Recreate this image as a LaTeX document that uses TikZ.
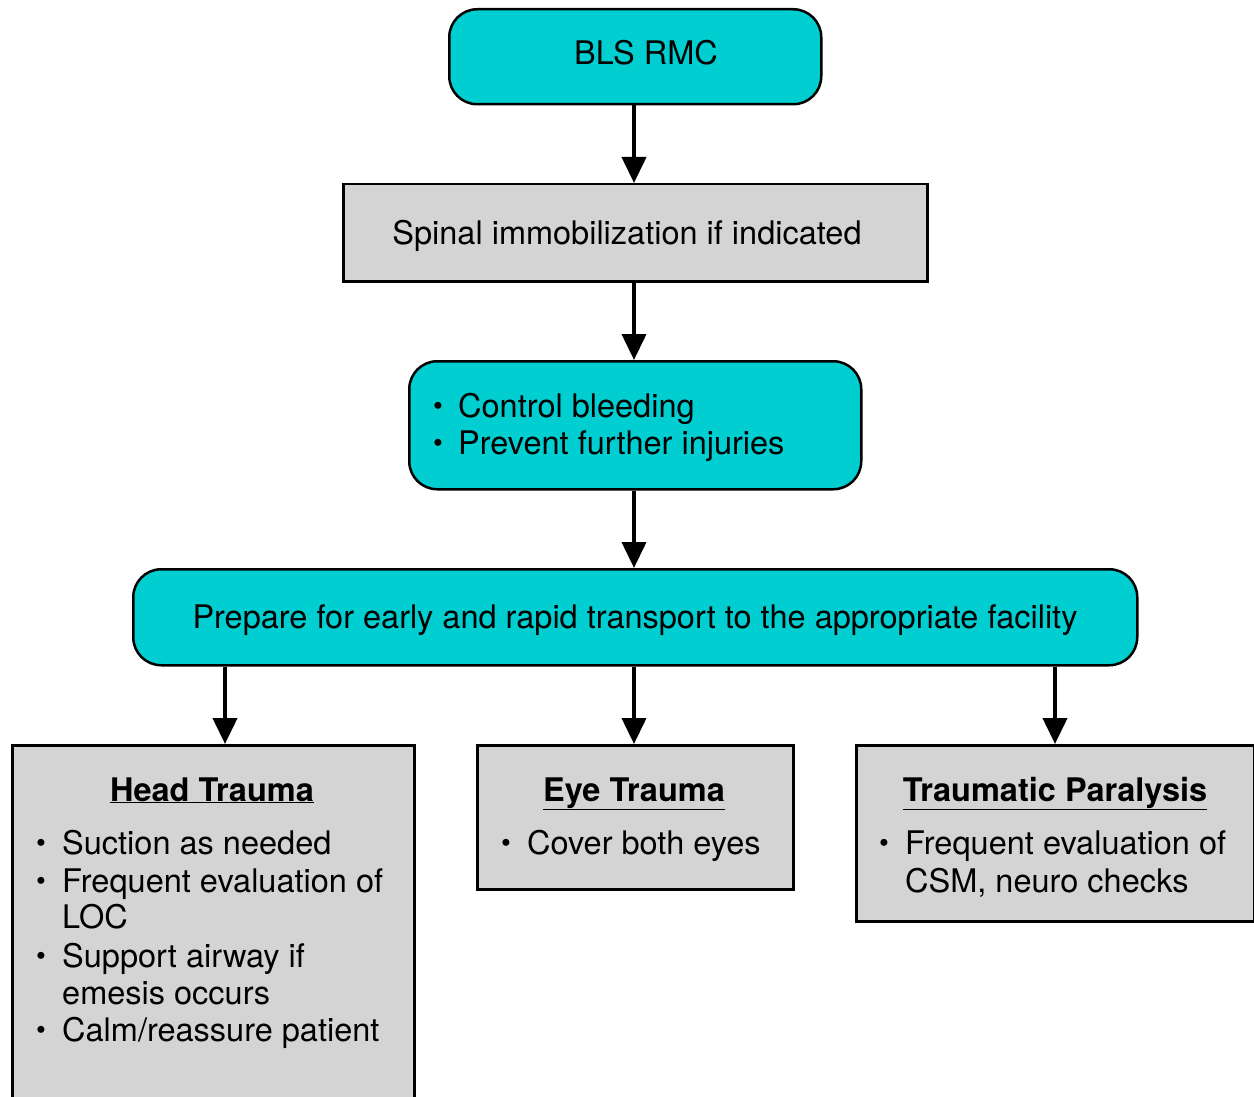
\documentclass[tikz,border=0pt]{standalone}
\usepackage{fontspec}
\setmainfont{TeX Gyre Heros}
\usetikzlibrary{arrows.meta}
\definecolor{tq}{HTML}{00CED1}
\definecolor{gbox}{HTML}{D4D4D4}
\tikzset{
  boxbase/.style={draw=black, line width=2.5pt, inner sep=0pt, anchor=north west},
  cbox/.style={boxbase, fill=tq, rounded corners=28pt},
  gbx/.style={boxbase, fill=gbox},
  txt/.style={inner sep=0pt, font=\fontsize{32.5}{38}\selectfont},
  ln/.style={txt, anchor=base west},
  bul/.style={inner sep=0pt, font=\fontsize{28}{30}\selectfont, anchor=base},
  arr/.style={line width=4pt, -{Triangle[width=24pt,length=26pt]}}
}
\begin{document}
\begin{tikzpicture}[x=1pt,y=-1pt]
\useasboundingbox (0,0) rectangle (1254,1097);
\clip (0,0) rectangle (1254,1097);
% boxes
\node[cbox, minimum width=372pt, minimum height=95pt] (bls) at (448,8) {};
\node[gbx, minimum width=584pt, minimum height=97pt] (spinal) at (342,183) {};
\node[cbox, minimum width=452pt, minimum height=128pt] (ctrl) at (408,360) {};
\node[cbox, minimum width=1004pt, minimum height=96pt] (prep) at (132,568) {};
\node[gbx, minimum width=402pt, minimum height=380pt] (head) at (11,744) {};
\node[gbx, minimum width=316pt, minimum height=144pt] (eye) at (476,744) {};
\node[gbx, minimum width=398pt, minimum height=176pt] (para) at (855,744) {};
% texts
\node[txt, anchor=base] (tbls) at (646,65) {BLS RMC};
\node[txt, anchor=base] (tspinal) at (627,244) {Spinal immobilization if indicated};
\node[bul] (b1) at (438,415) {•};
\node[ln] (tc1) at (458,417) {Control bleeding};
\node[bul] (b2) at (438,452) {•};
\node[ln] (tc2) at (458,454) {Prevent further injuries};
\node[txt, anchor=base] (tprep) at (635,628) {Prepare for early and rapid transport to the appropriate facility};
% head trauma
\node[txt, anchor=base] (th) at (212,801) {\textbf{\underline{Head Trauma}}};
\node[bul] (hb1) at (41,852) {•};
\node[ln] (h1) at (62,854) {Suction as needed};
\node[bul] (hb2) at (41,890) {•};
\node[ln] (h2a) at (62,892) {Frequent evaluation of};
\node[ln] (h2b) at (62,928) {LOC};
\node[bul] (hb3) at (41,965) {•};
\node[ln] (h3a) at (62,967) {Support airway if};
\node[ln] (h3b) at (62,1004) {emesis occurs};
\node[bul] (hb4) at (41,1039) {•};
\node[ln] (h4) at (62,1041) {Calm/reassure patient};
% eye trauma
\node[txt, anchor=base] (te) at (634,801) {\textbf{\underline{Eye Trauma}}};
\node[bul] (eb1) at (506,852) {•};
\node[ln] (e1) at (527,854) {Cover both eyes};
% paralysis
\node[txt, anchor=base] (tp) at (1055,801) {\textbf{\underline{Traumatic Paralysis}}};
\node[bul] (pb1) at (884,852) {•};
\node[ln] (p1a) at (905,854) {Frequent evaluation of};
\node[ln] (p1b) at (905,892) {CSM, neuro checks};
% connectors
\coordinate (xa) at (225,0);
\coordinate (xb) at (634,0);
\coordinate (xc) at (1055,0);
\draw[arr] (bls.south -| xb) -- (spinal.north -| xb);
\draw[arr] (spinal.south -| xb) -- (ctrl.north -| xb);
\draw[arr] (ctrl.south -| xb) -- (prep.north -| xb);
\draw[arr] (prep.south -| xa) -- (head.north -| xa);
\draw[arr] (prep.south -| xb) -- (eye.north -| xb);
\draw[arr] (prep.south -| xc) -- (para.north -| xc);
\end{tikzpicture}
\end{document}
